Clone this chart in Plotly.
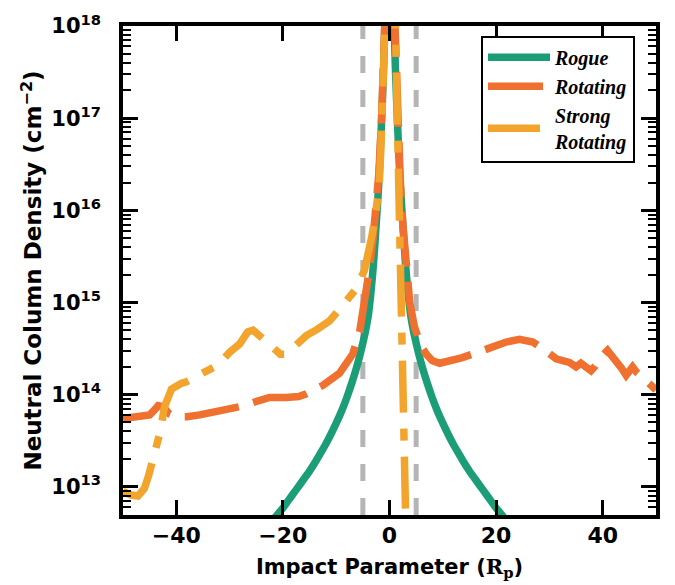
import plotly.graph_objects as go

# ---------------- data ----------------
rogue_x = [-22, -21, -20, -19, -18, -17, -16, -15, -14, -13, -12, -11, -10, -9, -8, -7, -6, -5, -4.5, -4, -3.5, -3,
           -2.5, -2, -1.5, -1.1, -0.8, -0.5,
           0,
           0.5, 0.8, 1.1, 1.5, 2, 2.5, 3, 3.5, 4, 4.5, 5, 6, 7, 8, 9, 10, 11, 12, 13, 14, 15, 16, 17, 18, 19, 20,
           21, 22]
rogue_n = [4.27e12, 5.01e12, 5.89e12, 7.08e12, 8.51e12, 1.02e13, 1.23e13, 1.48e13, 1.82e13, 2.29e13, 2.88e13,
           3.72e13, 4.90e13, 6.61e13, 9.33e13, 1.38e14, 2.14e14, 3.63e14, 4.90e14, 7.08e14, 1.26e15, 2.63e15,
           7.08e15, 2.00e16, 8.91e16, 3.55e17, 1.58e18, 6.31e18,
           3.0e19,
           6.31e18, 1.58e18, 3.55e17, 8.91e16, 2.00e16, 7.08e15, 2.63e15, 1.26e15, 7.08e14, 4.90e14, 3.63e14,
           2.14e14, 1.38e14, 9.33e13, 6.61e13, 4.90e13, 3.72e13, 2.88e13, 2.29e13, 1.82e13, 1.48e13, 1.23e13,
           1.02e13, 8.51e12, 7.08e12, 5.89e12, 5.01e12, 4.27e12]

rot_x = [-50, -48, -46, -45, -44, -43.4, -42.5, -41.3, -40, -38, -35.6, -32.5, -30, -28.1, -25.3, -22.5, -19.4, -17,
         -15.6, -12.5, -9.4, -6.9, -5.6, -4.7, -3.8, -3.0, -2.5, -2.0, -1.5, -1.1, -0.8, -0.5,
         0,
         0.5, 0.8, 1.1, 1.5, 2.0, 2.5, 3.1, 3.8, 4.7, 5.3, 6.0, 6.9, 8, 9.4, 11.9, 13.5, 15.6, 17.5, 19.4, 21.9,
         24.4, 26.9, 28.75, 30, 31.25, 33.75, 35, 35.9, 36.8, 37.8, 38.6, 39.4, 40.9, 41.8, 42.8, 43.6, 44.4,
         45.0, 45.6, 46.4, 47.2, 48.2, 49.1, 50]
rot_n = [5.50e13, 5.62e13, 5.75e13, 6.03e13, 6.92e13, 7.59e13, 7.41e13, 6.17e13, 5.75e13, 5.75e13, 6.03e13, 6.46e13,
         6.92e13, 7.41e13, 8.32e13, 9.33e13, 9.33e13, 9.55e13, 1.02e14, 1.26e14, 1.70e14, 2.75e14, 4.79e14, 1.00e15,
         2.24e15, 5.62e15, 1.00e16, 2.51e16, 1.00e17, 5.01e17, 2.00e18, 7.94e18,
         3.16e19,
         7.94e18, 2.00e18, 3.98e17, 1.00e17, 2.24e16, 7.08e15, 2.24e15, 1.00e15, 5.37e14, 4.17e14, 3.31e14, 2.75e14,
         2.34e14, 2.19e14, 2.34e14, 2.51e14, 2.75e14, 3.02e14, 3.31e14, 3.72e14, 3.98e14, 3.72e14, 3.16e14, 2.75e14,
         2.45e14, 2.24e14, 2.00e14, 2.19e14, 2.04e14, 1.82e14, 2.04e14, 2.45e14, 3.02e14, 2.63e14, 2.19e14, 1.91e14,
         1.62e14, 1.78e14, 2.00e14, 1.74e14, 1.55e14, 1.38e14, 1.26e14, 1.12e14]

strong_x = [-50, -48.5, -47.2, -46, -45.2, -44.4, -43.1, -42.2, -41.5, -40.9, -39.1, -38.1, -36.25, -33.75, -32.2,
            -30, -28.1, -26.6, -25.6, -24, -22.5, -20.5, -19.4, -18.1, -15.6, -13.5, -11.25, -8.75, -6.25, -4.7,
            -4.1, -3.3, -2.5, -1.9, -1.6, -1.4, -1.2, -1.0, -0.6,
            0,
            0.6, 1.0, 1.2, 1.4, 1.6, 1.75, 2.0, 2.2, 2.4, 2.5, 2.6, 2.8, 3.0, 3.2]
strong_n = [8.91e12, 8.13e12, 7.94e12, 9.55e12, 1.32e13, 1.95e13, 3.80e13, 7.41e13, 9.77e13, 1.15e14, 1.32e14,
            1.38e14, 1.58e14, 1.91e14, 2.09e14, 2.88e14, 3.55e14, 4.79e14, 5.01e14, 4.17e14, 3.39e14, 2.75e14,
            2.75e14, 3.16e14, 4.37e14, 5.13e14, 6.31e14, 9.33e14, 1.41e15, 2.24e15, 3.16e15, 5.25e15, 1.00e16,
            2.00e16, 5.01e16, 1.58e17, 6.31e17, 2.51e18, 1.00e19,
            3.16e19,
            1.00e19, 2.51e18, 6.31e17, 1.58e17, 5.01e16, 2.00e16, 3.39e15, 1.86e15, 7.94e14, 3.16e14, 5.25e13,
            1.58e13, 5.01e12, 1.58e12]

series_names = ["Rogue", "Rotating", "Strong<br>Rotating"]
series_colors = ["#1b9e77", "#f07030", "#f2a42c"]
planet_lines_x = [-5, 5]

x_range = [-50, 50]
y_log_range = [12.694, 18.0]
y_major_exp = [13, 14, 15, 16, 17, 18]

# ---------------- figure ----------------
fig = go.Figure()

for xv in planet_lines_x:
    fig.add_shape(type="line", xref="x", yref="paper", x0=xv, x1=xv, y0=0, y1=1,
                  line=dict(color="#b5b5b5", width=5, dash="17px,17px"), layer="below")

fig.add_trace(go.Scatter(x=rogue_x, y=rogue_n, mode="lines", name=series_names[0],
                         line=dict(color=series_colors[0], width=7.5, shape="spline", smoothing=0.6)))
fig.add_trace(go.Scatter(x=rot_x, y=rot_n, mode="lines", name=series_names[1],
                         line=dict(color=series_colors[1], width=7.5, dash="55px,15px")))
fig.add_trace(go.Scatter(x=strong_x, y=strong_n, mode="lines", name=series_names[2],
                         line=dict(color=series_colors[2], width=7.5, dash="52px,16px,12px,16px")))

xtick_font = dict(family="DejaVu Sans", size=22, color="black", weight="bold")
ytick_font = dict(family="DejaVu Sans", size=21, color="black", weight="bold")
minor_vals = [k * 10.0 ** d for d in range(12, 18) for k in range(2, 10)]

fig.update_xaxes(range=x_range, tick0=0, dtick=20, ticks="inside", ticklen=15, tickwidth=3.3,
                 tickcolor="black", showline=True, linewidth=3.5, linecolor="black", mirror="ticks",
                 showgrid=False, zeroline=False, tickfont=xtick_font, ticklabelstandoff=-2,
                 title=dict(text="Impact Parameter (<span style='font-family:DejaVu Serif'>R<sub>p</sub></span>)",
                            font=dict(family="DejaVu Sans", size=21, color="black", weight="bold"),
                            standoff=13))

yaxis_common = dict(type="log", range=y_log_range,
                    tickvals=[10.0 ** e for e in y_major_exp],
                    ticks="inside", ticklen=15, tickwidth=3.3, tickcolor="black",
                    minor=dict(ticks="inside", ticklen=8, tickwidth=2.3, tickcolor="black",
                               tickvals=minor_vals, showgrid=False),
                    showgrid=False, zeroline=False)

fig.update_layout(
    yaxis=dict(**yaxis_common,
               ticktext=["10<sup>%d</sup>" % e for e in y_major_exp],
               showline=True, linewidth=3.5, linecolor="black", mirror="ticks",
               tickfont=ytick_font, ticklabelstandoff=14,
               title=dict(text="Neutral Column Density (cm<sup>−2</sup>)",
                          font=dict(family="DejaVu Sans", size=23, color="black", weight="bold"),
                          standoff=4)),
    yaxis2=dict(**yaxis_common, overlaying="y", side="right", showticklabels=False, showline=False),
)

fig.update_layout(
    width=675, height=585,
    margin=dict(l=123, r=19, t=26, b=70, autoexpand=False),
    paper_bgcolor="white", plot_bgcolor="white",
    showlegend=True,
    legend=dict(x=0.6717, y=0.98, xanchor="left", yanchor="top",
                bgcolor="white", bordercolor="black", borderwidth=2,
                font=dict(family="Liberation Serif", size=20, color="black", weight="bold", style="italic"),
                itemwidth=62, tracegroupgap=0),
)

fig.write_html("out.html")
